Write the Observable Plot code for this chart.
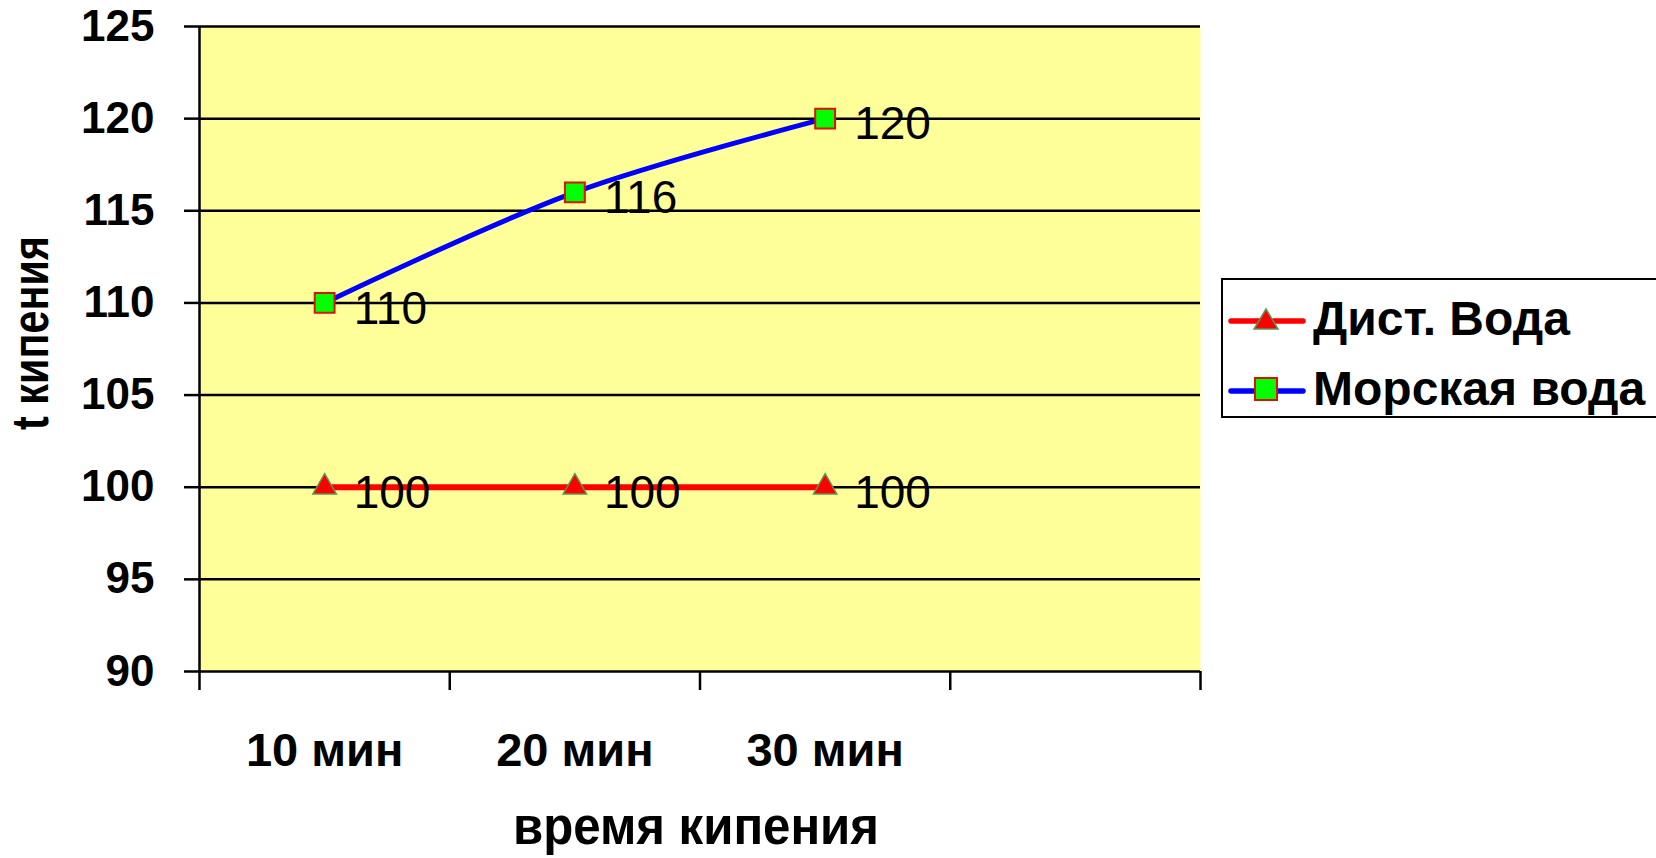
<!DOCTYPE html>
<html><head><meta charset="utf-8">
<script src="https://cdn.jsdelivr.net/npm/d3@7"></script>
<script src="https://cdn.jsdelivr.net/npm/@observablehq/plot@0.6"></script>
<style>
body{margin:0;background:#fff;font-family:"Liberation Sans",Arial,sans-serif;}
#wrap{position:relative;width:1656px;height:858px;overflow:hidden;}
#legend{position:absolute;left:1221px;top:278px;width:520px;height:140px;border:2.5px solid #000;box-sizing:border-box;background:#fff;}
.li{position:absolute;left:5px;display:flex;align-items:center;font-weight:bold;font-size:48px;color:#000;line-height:1;}
.li svg{margin-right:7px;}
</style></head>
<body><div id="wrap"></div>
<script>
const categories = ["10 мин", "20 мин", "30 мин", ""];
const seriesNames = ["Дист. Вода", "Морская вода"];
const distValues = [100, 100, 100];
const seaValues = [110, 116, 120];
const yTicks = [90, 95, 100, 105, 110, 115, 120, 125];
const xTitle = "время кипения";
const yTitle = "t кипения";

const dist = distValues.map((v, i) => ({x: i + 0.5, y: v}));
const sea = seaValues.map((v, i) => ({x: i + 0.5, y: v}));
const catTicks = categories.map((c, i) => i + 0.5).slice(0, 3);
const edgeTicks = d3.range(categories.length + 1);

const chart = Plot.plot({
  width: 1656, height: 858,
  marginLeft: 199, marginRight: 456, marginTop: 26, marginBottom: 187,
  style: {fontFamily: "Liberation Sans, Arial, sans-serif", background: "transparent"},
  x: {domain: [0, categories.length], axis: null},
  y: {domain: [90, 125], axis: null},
  marks: [
    Plot.frame({fill: "#FFFF99", stroke: null}),
    Plot.gridY(yTicks.slice(1), {stroke: "#000", strokeOpacity: 1, strokeWidth: 2.5}),
    Plot.ruleY([90], {stroke: "#000", strokeWidth: 2.5}),
    Plot.ruleX([0], {stroke: "#000", strokeWidth: 2.5}),
    Plot.axisY({ticks: yTicks, tickSize: 15, tickPadding: 30, fontSize: 44, fontWeight: "bold",
      label: null, stroke: "#000", strokeWidth: 2.5, fill: "#000"}),
    Plot.axisX({ticks: edgeTicks, tickSize: 19, tickFormat: () => "", label: null, stroke: "#000", strokeWidth: 2.5}),
    Plot.axisX({ticks: catTicks, tickSize: 0, tickPadding: 61, tickFormat: d => categories[Math.floor(d)],
      fontSize: 47, fontWeight: "bold", label: null, fill: "#000"}),
    Plot.text([xTitle], {frameAnchor: "bottom", textAnchor: "middle", dx: -4, dy: 156, lineAnchor: "middle", fontSize: 51,
      fontWeight: "bold", fill: "#000", className: "xtitle"}),
    Plot.text([yTitle], {frameAnchor: "left", textAnchor: "middle", dx: -168, dy: -16, rotate: -90, lineAnchor: "middle", fontSize: 52,
      fontWeight: "bold", fill: "#000", className: "ytitle"}),
    Plot.line(dist, {x: "x", y: "y", stroke: "#FF0000", strokeWidth: 6}),
    Plot.line(sea, {x: "x", y: "y", stroke: "#0000FF", strokeWidth: 5, curve: "catmull-rom"}),
    Plot.dot(dist, {x: "x", y: "y", symbol: "triangle", r: 8.7, fill: "#FF0000", stroke: "#559955", strokeWidth: 1.5}),
    Plot.dot(sea, {x: "x", y: "y", symbol: "square", r: 11.2, fill: "#00FF00", stroke: "#DD1100", strokeWidth: 2}),
    Plot.text(dist, {x: "x", y: "y", text: d => String(d.y), textAnchor: "start", lineAnchor: "middle", dx: 29, dy: 6, fontSize: 46, fill: "#000"}),
    Plot.text(sea, {x: "x", y: "y", text: d => String(d.y), textAnchor: "start", lineAnchor: "middle", dx: 29, dy: 6, fontSize: 46, fill: "#000"})
  ]
});
const wrap = document.getElementById("wrap");
wrap.appendChild(chart);
[[".xtitle text", 366], [".ytitle text", 194]].forEach(([sel, len]) => {
  chart.querySelectorAll(sel).forEach(t => { t.setAttribute("textLength", len); t.setAttribute("lengthAdjust", "spacingAndGlyphs"); });
});

const legend = document.createElement("div");
legend.id = "legend";
const items = [
  {name: seriesNames[0], line: "#FF0000", sym: `<path d="M38,8 L50,28 L26,28 Z" fill="#FF0000" stroke="#559955" stroke-width="1.5"/>`, top: 15},
  {name: seriesNames[1], line: "#0000FF", sym: `<rect x="27" y="7" width="22" height="22" fill="#00FF00" stroke="#DD1100" stroke-width="2"/>`, top: 85}
];
items.forEach(it => {
  const d = document.createElement("div");
  d.className = "li"; d.style.top = it.top + "px";
  d.innerHTML = `<svg width="78" height="36"><line x1="3" x2="75" y1="20" y2="20" stroke="${it.line}" stroke-width="5.5" stroke-linecap="round"/>${it.sym}</svg><span>${it.name}</span>`;
  legend.appendChild(d);
});
wrap.appendChild(legend);
</script></body></html>
